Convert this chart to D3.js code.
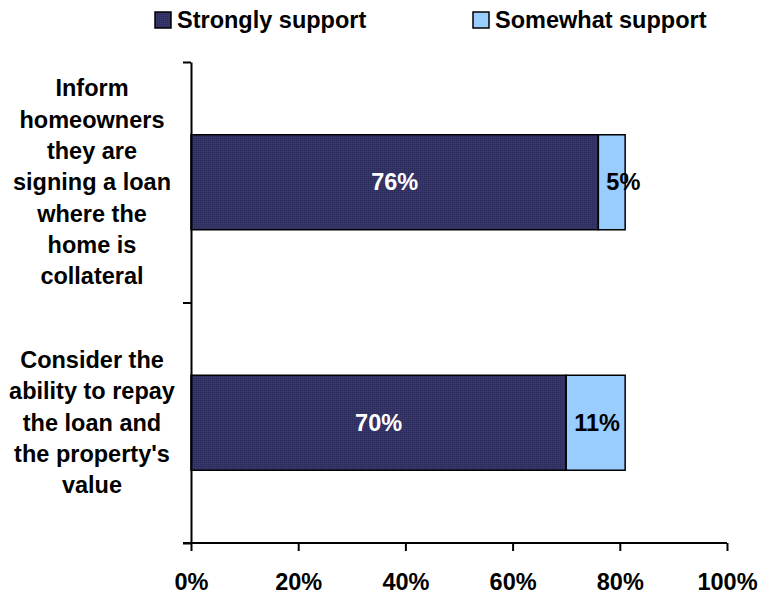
<!DOCTYPE html>
<html>
<head>
<meta charset="utf-8">
<script src="https://cdn.jsdelivr.net/npm/d3@7"></script>
<style>
  body { margin: 0; background: #fff; }
  svg text { font-family: "Liberation Sans", Arial, sans-serif; font-weight: bold; }
</style>
</head>
<body>
<svg class="chart" width="759" height="594"></svg>
<script>
var categories = [
    "Inform homeowners they are signing a loan where the home is collateral",
    "Consider the ability to repay the loan and the property's value"
];
var seriesNames = ["Strongly support", "Somewhat support"];
var strongly = [76, 70];
var somewhat = [5, 11];
var xTicks = [0, 20, 40, 60, 80, 100];

var svg = d3.select(".chart");
var plotLeft = 191, plotRight = 727, plotTop = 62, plotBottom = 543;
var fontSize = 23.5;

var defs = svg.append("defs");
var pat = defs.append("pattern")
    .attr("id", "dither")
    .attr("width", 2).attr("height", 2)
    .attr("patternUnits", "userSpaceOnUse");
pat.append("rect").attr("width", 2).attr("height", 2).attr("fill", "#333366");
pat.append("rect").attr("width", 1).attr("height", 1).attr("fill", "#2c2c5c");
pat.append("rect").attr("x", 1).attr("y", 1).attr("width", 1).attr("height", 1).attr("fill", "#3a3a6e");

var colors = ["url(#dither)", "#99ccff"];

var x = d3.scaleLinear().domain([0, 100]).range([plotLeft, plotRight]);
var y = d3.scaleBand().domain(categories).range([plotTop, plotBottom])
    .paddingInner(0.605).paddingOuter(0.3025);

var stack = categories.map(function(c, i) {
    return [
        { cat: c, s: 0, x0: 0, x1: strongly[i], v: strongly[i] },
        { cat: c, s: 1, x0: strongly[i], x1: strongly[i] + somewhat[i], v: somewhat[i] }
    ];
});
var segs = d3.merge(stack);

// bars
svg.append("g").selectAll("rect")
    .data(segs)
    .enter().append("rect")
    .attr("x", function(d) { return x(d.x0); })
    .attr("y", function(d) { return y(d.cat); })
    .attr("width", function(d) { return x(d.x1) - x(d.x0); })
    .attr("height", y.bandwidth())
    .attr("fill", function(d) { return colors[d.s]; })
    .attr("stroke", "#000")
    .attr("stroke-width", 1.5);

// value labels
svg.append("g").selectAll("text")
    .data(segs)
    .enter().append("text")
    .attr("font-size", fontSize)
    .attr("fill", function(d) { return d.s === 0 ? "#fff" : "#000"; })
    .attr("text-anchor", "middle")
    .attr("y", function(d) { return y(d.cat) + y.bandwidth() / 2 + 8; })
    .text(function(d) { return d.v + "%"; })
    .attr("x", function(d) {
        var w = this.getComputedTextLength();
        var mid = (x(d.x0) + x(d.x1)) / 2;
        return Math.max(mid, x(d.x0) + w / 2 + 8);
    });

// x axis
var xAxis = svg.append("g")
    .attr("transform", "translate(0," + plotBottom + ")")
    .call(d3.axisBottom(x).tickValues(xTicks).tickSize(8).tickPadding(22)
        .tickFormat(function(d) { return d + "%"; }));
xAxis.select(".domain").attr("d", "M" + (plotLeft - 8) + ",0H" + plotRight)
    .attr("stroke", "#000").attr("stroke-width", 2);
xAxis.selectAll(".tick line").attr("stroke", "#000").attr("stroke-width", 2);
xAxis.selectAll(".tick text")
    .attr("font-size", fontSize)
    .attr("font-family", "Liberation Sans, Arial, sans-serif")
    .attr("font-weight", "bold")
    .attr("fill", "#000");

// y axis, ticks on the category boundaries
var yLin = d3.scaleLinear().domain([0, categories.length]).range([plotBottom, plotTop]);
var yAxis = svg.append("g")
    .attr("transform", "translate(" + plotLeft + ",0)")
    .call(d3.axisLeft(yLin).tickValues(d3.range(categories.length + 1)).tickSize(8).tickSizeOuter(0)
        .tickFormat(""));
yAxis.select(".domain").attr("stroke", "#000").attr("stroke-width", 2);
yAxis.selectAll(".tick line").attr("stroke", "#000").attr("stroke-width", 2);

// category labels, wrapped
var lineH = 31.3;
svg.append("g").selectAll("text")
    .data(categories)
    .enter().append("text")
    .attr("font-size", fontSize)
    .attr("text-anchor", "middle")
    .attr("fill", "#000")
    .each(function(d) {
        var t = d3.select(this);
        var words = d.split(" ");
        var lines = [], cur = [];
        var tmp = t.append("tspan");
        words.forEach(function(w) {
            cur.push(w);
            tmp.text(cur.join(" "));
            if (tmp.node().getComputedTextLength() > 170 && cur.length > 1) {
                cur.pop();
                lines.push(cur.join(" "));
                cur = [w];
            }
        });
        lines.push(cur.join(" "));
        tmp.remove();
        var cy = y(d) + y.bandwidth() / 2;
        var y0 = cy - (lines.length - 1) * lineH / 2 + 8;
        lines.forEach(function(l, i) {
            t.append("tspan").attr("x", 92).attr("y", y0 + i * lineH).text(l);
        });
    });

// legend
var legendX = [155, 473];
var legend = svg.append("g").selectAll("g")
    .data(seriesNames)
    .enter().append("g")
    .attr("transform", function(d, i) { return "translate(" + legendX[i] + ",12)"; });
legend.append("rect")
    .attr("width", 16).attr("height", 16)
    .attr("fill", function(d, i) { return colors[i]; })
    .attr("stroke", "#000").attr("stroke-width", 1.5);
legend.append("text")
    .attr("x", 22).attr("y", 16)
    .attr("font-size", fontSize)
    .attr("fill", "#000")
    .text(function(d) { return d; });
</script>
</body>
</html>
